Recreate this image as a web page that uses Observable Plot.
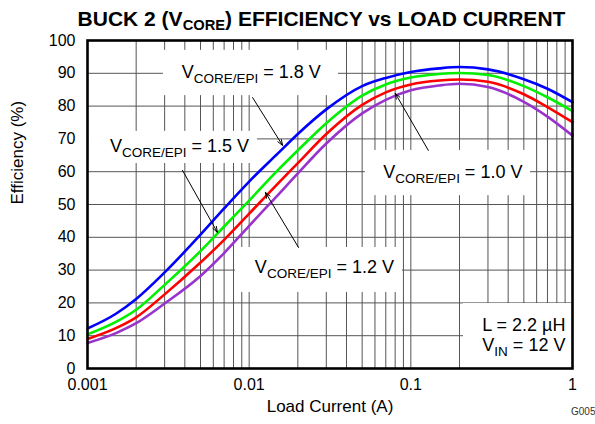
<!DOCTYPE html>
<html>
<head>
<meta charset="utf-8">
<script src="https://cdn.jsdelivr.net/npm/d3@7"></script>
<script src="https://cdn.jsdelivr.net/npm/@observablehq/plot@0.6"></script>
<style>
  body { margin: 0; background: #fff; font-family: "Liberation Sans", Arial, sans-serif; }
  #title { width: 595px; height: 34px; box-sizing: border-box; padding-top: 4px; padding-left: 48px;
           text-align: center; font-weight: bold; font-size: 21px; line-height: 30px; color: #000; white-space: nowrap; }
  #title sub { font-size: 0.7em; vertical-align: -0.25em; line-height: 0; }
</style>
</head>
<body>
<div id="title">BUCK 2 (V<sub>CORE</sub>) EFFICIENCY vs LOAD CURRENT</div>
<div id="chart"></div>
<script>
// ---- data ----
const loadCurrent = [0.001, 0.0015, 0.002, 0.003, 0.005, 0.007, 0.01, 0.015, 0.02, 0.03, 0.05, 0.07, 0.1, 0.15, 0.2, 0.3, 0.5, 0.7, 1];
const eff18 = [12.2, 16.7, 21.2, 29.3, 40.8, 48.8, 57.0, 65.5, 71.5, 79.0, 86.1, 88.6, 90.4, 91.5, 91.9, 91.2, 88.2, 85.3, 81.2];
const eff15 = [10.4, 14.2, 17.9, 25.5, 35.8, 43.3, 51.2, 60.4, 66.5, 74.8, 83.2, 86.6, 88.7, 89.8, 90.1, 89.5, 86.1, 82.7, 78.5];
const eff12 = [9.0, 12.3, 15.6, 22.6, 32.3, 39.2, 47.2, 56.3, 62.6, 71.5, 80.4, 84.2, 86.6, 87.8, 88.1, 87.4, 83.6, 79.7, 75.1];
const eff10 = [7.8, 10.8, 13.8, 19.8, 28.2, 35.2, 43.5, 52.8, 59.5, 68.6, 77.8, 81.9, 84.8, 86.3, 86.8, 85.8, 81.3, 76.8, 71.0];
const seriesNames = ["1.8 V", "1.5 V", "1.2 V", "1.0 V"];
const seriesValues = [eff18, eff15, eff12, eff10];
const seriesColors = ["#0000ff", "#00f000", "#ff0000", "#9933cc"];

const xTicks = [0.001, 0.01, 0.1, 1];
const yTicks = [0, 10, 20, 30, 40, 50, 60, 70, 80, 90, 100];

// annotation labels (data coordinates)
const labelText = ["V_{CORE/EPI} = 1.8 V", "V_{CORE/EPI} = 1.5 V", "V_{CORE/EPI} = 1.2 V", "V_{CORE/EPI} = 1.0 V"];
const labelX = [0.0103, 0.00371, 0.0292, 0.182];
const labelY = [90.2, 67.7, 30.8, 59.8];
const boxX1 = [0.00295, 0.00102, 0.00822, 0.0524];
const boxX2 = [0.0357, 0.01125, 0.0887, 0.55];
const boxY1 = [83.2, 62.5, 23.2, 52.7];
const boxY2 = [97.0, 72.3, 36.9, 66.5];
const arrowX1 = [0.0105, 0.00387, 0.0202, 0.1283];
const arrowY1 = [82.6, 60.4, 36.9, 66.5];
const arrowX2 = [0.0161, 0.00636, 0.0126, 0.0801];
const arrowY2 = [68.0, 41.5, 53.7, 83.9];

const condText = ["L = 2.2 µH", "V_{IN} = 12 V"];
const condX = [0.904, 0.904];
const condY = [13.1, 7.0];
const condBox = {x1: 0.2115, x2: 1, y1: 0, y2: 19.8};

// ---- derived tables ----
const rows = seriesNames.flatMap((s, k) => loadCurrent.map((c, i) => ({series: s, current: c, eff: seriesValues[k][i]})));
const labels = labelText.map((t, i) => ({t, x: labelX[i], y: labelY[i], bx1: boxX1[i], bx2: boxX2[i], by1: boxY1[i], by2: boxY2[i],
  ax1: arrowX1[i], ay1: arrowY1[i], ax2: arrowX2[i], ay2: arrowY2[i]}));
const conds = condText.map((t, i) => ({t, x: condX[i], y: condY[i]}));
const xGrid = [];
for (const d of [0.001, 0.01, 0.1]) for (let m = 1; m <= 9; m++) xGrid.push(+(d * m).toPrecision(3));
xGrid.push(1);
const yGrid = yTicks.slice(1, -1);

const FONT = "'Liberation Sans', Arial, sans-serif";

const plot = Plot.plot({
  width: 595,
  height: 390,
  marginTop: 6,
  marginLeft: 87,
  marginRight: 23,
  marginBottom: 56,
  style: {fontFamily: FONT, fontSize: "16px", background: "white", color: "black", overflow: "visible"},
  x: {type: "log", domain: [0.001, 1], ticks: xTicks, tickFormat: d => String(d), tickSize: 0, tickPadding: 10, label: null},
  y: {domain: [0, 100], ticks: yTicks, tickSize: 0, tickPadding: 12, label: null},
  color: {domain: seriesNames, range: seriesColors},
  marks: [
    Plot.ruleX(xGrid, {stroke: "#555", strokeWidth: 1}),
    Plot.ruleY(yGrid, {stroke: "#555", strokeWidth: 1}),
    Plot.rect(labels, {x1: "bx1", x2: "bx2", y1: "by1", y2: "by2", fill: "white"}),
    Plot.rect([condBox], {x1: "x1", x2: "x2", y1: "y1", y2: "y2", fill: "white"}),
    Plot.line(rows, {x: "current", y: "eff", z: "series", stroke: "series", strokeWidth: 2.6, curve: "monotone-x"}),
    Plot.arrow(labels, {x1: "ax1", y1: "ay1", x2: "ax2", y2: "ay2", stroke: "black", strokeWidth: 1, headLength: 9, headAngle: 40}),
    Plot.text(labels, {x: "x", y: "y", text: "t", fontSize: 18, textAnchor: "middle", fill: "black"}),
    Plot.text(conds, {x: "x", y: "y", text: "t", fontSize: 18, textAnchor: "end", fill: "black"}),
    Plot.frame({stroke: "black", strokeWidth: 2.6}),
    Plot.text(["Load Current (A)"], {frameAnchor: "bottom", dy: 43, fontSize: 17, fill: "black"}),
    Plot.text(["Efficiency (%)"], {frameAnchor: "left", dx: -70, rotate: -90, fontSize: 17, fill: "black"}),
    Plot.text(["G005"], {frameAnchor: "bottom-right", dx: 23, dy: 46, textAnchor: "end", fontSize: 10, fill: "#333"})
  ]
});

// real subscripts for "_{...}" parts
function subify(el, size) {
  const s = el.textContent;
  if (!s.includes("_{")) return;
  const parts = s.split(/(_\{[^}]*\})/);
  el.textContent = "";
  let shifted = false;
  for (const p of parts) {
    if (!p) continue;
    const t = document.createElementNS("http://www.w3.org/2000/svg", "tspan");
    if (p.startsWith("_{")) {
      t.textContent = p.slice(2, -1);
      t.setAttribute("font-size", (size * 0.75).toFixed(1));
      t.setAttribute("dy", (size * 0.26).toFixed(1));
      shifted = true;
    } else {
      t.textContent = p;
      if (shifted) { t.setAttribute("dy", (-size * 0.26).toFixed(1)); shifted = false; }
    }
    el.appendChild(t);
  }
}
d3.select(plot).selectAll("text").each(function () { subify(this, 18); });

document.getElementById("chart").appendChild(plot);
</script>
</body>
</html>
